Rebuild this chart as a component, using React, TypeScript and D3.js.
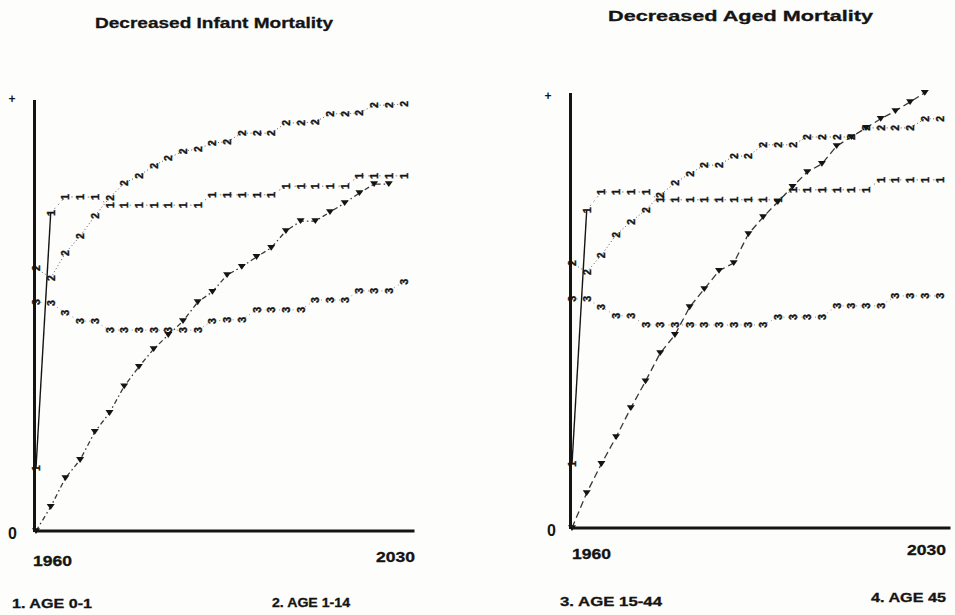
import React from "react";
import * as d3 from "d3";

// ---- data ----
const years = [1960, 1962.8, 1965.6, 1968.4, 1971.2, 1974, 1976.8, 1979.6, 1982.4, 1985.2, 1988, 1990.8, 1993.6,
  1996.4, 1999.2, 2002, 2004.8, 2007.6, 2010.4, 2013.2, 2016, 2018.8, 2021.6, 2024.4, 2027.2, 2030];

const panelTitles = ["Decreased Infant Mortality", "Decreased Aged Mortality"];
const legendLabels = ["1. AGE 0-1", "2. AGE 1-14", "3. AGE 15-44", "4. AGE 45"];
const xTickLabels = ["1960", "2030"];
const yTickLabels = ["0", "+"];

// Panel 1: decreased infant mortality
const infantAge0_1 = [14.6, 73.8, 77.5, 77.5, 77.5, 75.6, 75.6, 75.6, 75.6, 75.6, 75.6, 75.6, 78.0, 78.0, 78.0, 78.0,
  78.0, 80.0, 80.0, 80.0, 80.0, 80.0, 82.4, 82.4, 82.4, 82.4];
const infantAge1_14 = [61.0, 58.7, 64.5, 68.4, 73.1, 77.3, 80.7, 82.4, 84.7, 86.5, 88.1, 88.6, 90.0, 90.3, 92.3, 92.3,
  92.3, 94.7, 94.7, 94.9, 96.8, 96.8, 97.0, 98.8, 98.8, 99.1];
const infantAge15_44 = [53.1, 52.9, 50.6, 48.7, 48.7, 46.6, 46.6, 46.6, 46.6, 46.6, 46.6, 46.6, 48.7, 49.0, 49.0, 51.3,
  51.3, 51.3, 51.3, 53.6, 53.6, 53.6, 55.7, 55.7, 55.7, 57.8];
const infantAge45 = [0, 5.6, 12.3, 16.5, 23.0, 27.4, 33.6, 38.1, 42.2, 45.5, 48.7, 53.1, 55.5, 59.4, 61.3, 63.6, 65.7,
  69.6, 71.9, 71.9, 74.0, 76.1, 78.4, 80.5, 80.5, null];

// Panel 2: decreased aged mortality
const agedAge0_1 = [14.8, 73.4, 77.6, 77.6, 77.6, 77.6, 75.8, 75.8, 75.8, 75.8, 75.8, 75.8, 75.8, 75.8, 75.8, 78.1,
  78.1, 78.1, 78.1, 78.1, 78.1, 80.4, 80.4, 80.4, 80.4, 80.4];
const agedAge1_14 = [61.2, 59.1, 63.0, 67.7, 70.7, 73.4, 76.9, 79.7, 81.8, 83.8, 83.8, 85.9, 85.9, 88.5, 88.5, 88.5,
  90.3, 90.3, 90.3, 90.3, 92.4, 92.4, 92.4, 92.4, 94.5, 94.5];
const agedAge15_44 = [52.9, 52.9, 51.0, 49.0, 49.0, 46.9, 46.9, 46.9, 46.9, 46.9, 46.9, 46.9, 46.9, 46.9, 48.7, 48.7,
  48.7, 48.7, 51.3, 51.3, 51.3, 51.3, 53.6, 53.6, 53.6, 53.6];
const agedAge45 = [0, 8.1, 14.8, 21.0, 27.7, 33.9, 40.4, 44.6, 51.0, 55.2, 59.4, 61.2, 67.9, 71.8, 75.3, 78.8, 82.2,
  84.1, 88.2, 90.3, 92.4, 94.5, 96.3, 98.4, 100.5, null];

const INK = "#141414";
const FONT = "'Liberation Sans', Arial, Helvetica, sans-serif";

type Layout = {
  x0: number; x1: number; yBottom: number; yTop: number; dash4: string;
  title: { x: number; y: number; len: number };
  t1960: { x: number; y: number }; t2030: { x: number; y: number };
  zero: { x: number; y: number }; plus: { x: number; y: number };
  legends: { x: number; y: number; len: number }[];
};

const layouts: Layout[] = [
  {
    x0: 36, x1: 403.5, yBottom: 531, yTop: 100, dash4: "5,3,1.5,3",
    title: { x: 95, y: 28, len: 238 },
    t1960: { x: 33, y: 566 }, t2030: { x: 376, y: 562 },
    zero: { x: 8, y: 539 }, plus: { x: 12, y: 99 },
    legends: [{ x: 12, y: 608, len: 80 }, { x: 272, y: 607, len: 78 }],
  },
  {
    x0: 572, x1: 939.5, yBottom: 528, yTop: 95, dash4: "7,4",
    title: { x: 608, y: 21, len: 265 },
    t1960: { x: 572, y: 559 }, t2030: { x: 907, y: 555 },
    zero: { x: 547, y: 536 }, plus: { x: 548, y: 96 },
    legends: [{ x: 560, y: 606, len: 102 }, { x: 871, y: 602, len: 75 }],
  },
];

const panelSeries = [
  [infantAge0_1, infantAge1_14, infantAge15_44, infantAge45],
  [agedAge0_1, agedAge1_14, agedAge15_44, agedAge45],
];

function Panel({ idx }: { idx: number }) {
  const L = layouts[idx];
  const series = panelSeries[idx];
  const x = d3.scaleLinear().domain([1960, 2030]).range([L.x0, L.x1]);
  const y = d3.scaleLinear().domain([0, 100]).range([L.yBottom, L.yTop]);

  const pts = (vals: (number | null)[]) =>
    years.map((yr, i) => ({ yr, v: vals[i] })).filter((d) => d.v !== null && d.v !== undefined) as { yr: number; v: number }[];

  const line = d3.line<{ yr: number; v: number }>().x((d) => x(d.yr)).y((d) => y(d.v));

  const s1 = pts(series[0]);
  const s2 = pts(series[1]);
  const s3 = pts(series[2]);
  const s4 = pts(series[3]);

  // printer-style markers: series digits turned a quarter turn
  const glyph = (d: { yr: number; v: number }, ch: string, key: string, size = 10.5) => (
    <text
      key={key}
      transform={`translate(${x(d.yr)},${y(d.v)}) rotate(-90)`}
      textAnchor="middle"
      dominantBaseline="central"
      fontFamily={FONT}
      fontWeight="bold"
      fontSize={size}
      fill={INK}
      stroke={INK}
      strokeWidth={0.35}
    >
      {ch}
    </text>
  );

  return (
    <g>
      {/* title */}
      <text x={L.title.x} y={L.title.y} fontFamily={FONT} fontWeight="bold" fontSize={15.5} fill={INK}
        stroke={INK} strokeWidth={0.3}
        textLength={L.title.len} lengthAdjust="spacingAndGlyphs">{panelTitles[idx]}</text>

      {/* axes */}
      <line x1={x(1960) - 1.5} x2={x(1960) - 1.5} y1={y(0) + 1} y2={y(100) - (idx === 1 ? 2 : 0)} stroke={INK} strokeWidth={3} />
      <line x1={x(1960) - 1} x2={x(2030) + 11} y1={y(0)} y2={y(0)} stroke={INK} strokeWidth={3} />

      {/* tick labels */}
      <text x={L.plus.x} y={L.plus.y} textAnchor="middle" dominantBaseline="central" fontFamily={FONT} fontWeight="bold"
        fontSize={12} fill={INK}>{yTickLabels[1]}</text>
      <text x={L.zero.x} y={L.zero.y} fontFamily={FONT} fontWeight="bold" fontSize={16} fill={INK}>{yTickLabels[0]}</text>
      <text x={L.t1960.x} y={L.t1960.y} fontFamily={FONT} fontWeight="bold" fontSize={14} fill={INK}
        stroke={INK} strokeWidth={0.3}
        textLength={39} lengthAdjust="spacingAndGlyphs">{xTickLabels[0]}</text>
      <text x={L.t2030.x} y={L.t2030.y} fontFamily={FONT} fontWeight="bold" fontSize={14} fill={INK}
        stroke={INK} strokeWidth={0.3}
        textLength={39} lengthAdjust="spacingAndGlyphs">{xTickLabels[1]}</text>

      {/* legend labels */}
      {L.legends.map((lg, i) => (
        <text key={i} x={lg.x} y={lg.y} fontFamily={FONT} fontWeight="bold" fontSize={13} fill={INK}
          stroke={INK} strokeWidth={0.3}
          textLength={lg.len} lengthAdjust="spacingAndGlyphs">{legendLabels[idx * 2 + i]}</text>
      ))}

      {/* series lines */}
      <path d={line(s1.slice(0, 2)) || ""} fill="none" stroke={INK} strokeWidth={1.4} />
      <path d={line(s1.slice(1)) || ""} fill="none" stroke={INK} strokeWidth={0.9} strokeDasharray="1.5,4" opacity={0.6} />
      <path d={line(s2) || ""} fill="none" stroke={INK} strokeWidth={1} strokeDasharray="1,2.5" opacity={0.7} />
      <path d={line(s3) || ""} fill="none" stroke={INK} strokeWidth={0.9} strokeDasharray="1,3.5" opacity={0.55} />
      <path d={line(s4) || ""} fill="none" stroke={INK} strokeWidth={1.3} strokeDasharray={L.dash4} opacity={0.85} />

      {/* markers */}
      {s1.map((d, i) => glyph(d, "1", `a${i}`, 11))}
      {s2.map((d, i) => glyph(d, "2", `b${i}`))}
      {s3.map((d, i) => glyph(d, "3", `c${i}`))}
      {s4.map((d, i) => {
        const cx = x(d.yr), cy = y(d.v);
        return (
          <path key={`d${i}`} d={`M${cx - 4},${cy - 2.8}L${cx + 4},${cy - 2.8}L${cx},${cy + 3}Z`} fill={INK} />
        );
      })}
    </g>
  );
}

export default function App() {
  return (
    <svg width={955} height={615} viewBox="0 0 955 615"
      style={{ position: "absolute", left: 0, top: 0, background: "#fdfdfb" }}>
      <rect x={0} y={0} width={955} height={615} fill="#fdfdfb" />
      <Panel idx={0} />
      <Panel idx={1} />
    </svg>
  );
}
